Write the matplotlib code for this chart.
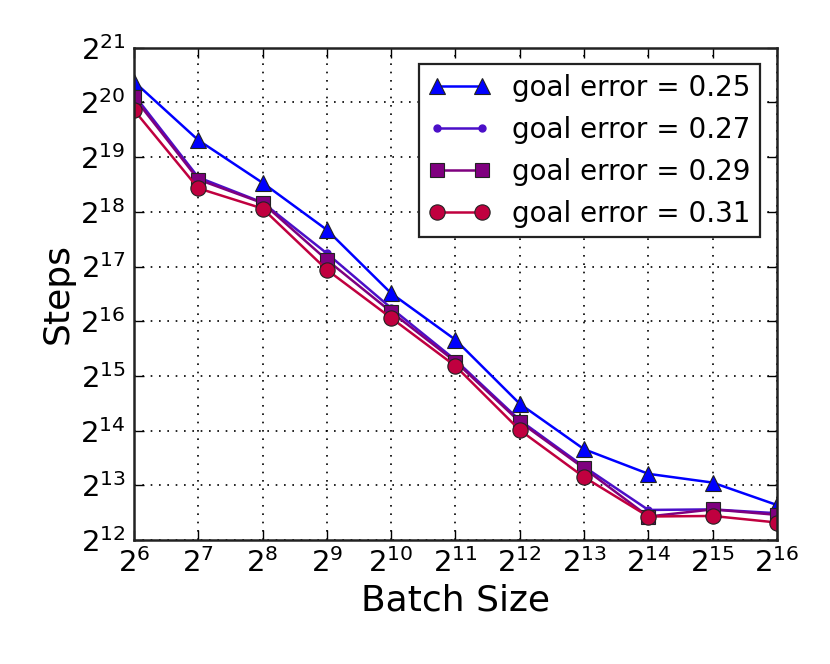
import matplotlib
matplotlib.use("Agg")
import matplotlib.pyplot as plt
import numpy as np

# batch sizes as powers of two
batch_exp = [6, 7, 8, 9, 10, 11, 12, 13, 14, 15, 16]

# log2(steps) for each goal error
steps_025 = [20.38, 19.31, 18.53, 17.67, 16.51, 15.66, 14.49, 13.66, 13.21, 13.05, 12.64]
steps_027 = [20.14, 18.63, 18.17, 17.24, 16.24, 15.29, 14.19, 13.34, 12.55, 12.56, 12.49]
steps_029 = [20.09, 18.59, 18.16, 17.12, 16.17, 15.26, 14.16, 13.31, 12.43, 12.56, 12.46]
steps_031 = [19.86, 18.43, 18.06, 16.94, 16.06, 15.18, 14.01, 13.15, 12.43, 12.44, 12.32]

labels = ["goal error = 0.25", "goal error = 0.27", "goal error = 0.29", "goal error = 0.31"]

batch = 2.0 ** np.array(batch_exp)

fig = plt.figure(figsize=(8.3, 6.64), dpi=100)
ax = fig.add_axes([0.1614, 0.1867, 0.7747, 0.7415])

ax.plot(batch, 2.0 ** np.array(steps_025), color="#0000ff", marker="^", ms=11,
        mec="#222222", mew=0.8, lw=1.8, label=labels[0])
ax.plot(batch, 2.0 ** np.array(steps_027), color="#4b0fc8", marker="o", ms=5,
        mec="#4b0fc8", lw=1.8, label=labels[1])
ax.plot(batch, 2.0 ** np.array(steps_029), color="#7f007f", marker="s", ms=10,
        mec="#222222", mew=0.8, lw=1.8, label=labels[2])
ax.plot(batch, 2.0 ** np.array(steps_031), color="#c0003f", marker="o", ms=11,
        mec="#222222", mew=0.8, lw=1.8, label=labels[3])

ax.set_xscale("log", base=2)
ax.set_yscale("log", base=2)
ax.set_xlim(2 ** 6, 2 ** 16)
ax.set_ylim(2 ** 12, 2 ** 21)

xt = [2.0 ** e for e in batch_exp]
ax.set_xticks(xt)
ax.set_xticklabels([r"$2^{%d}$" % e for e in batch_exp])
yexp = list(range(12, 22))
ax.set_yticks([2.0 ** e for e in yexp])
ax.set_yticklabels([r"$2^{%d}$" % e for e in yexp])
ax.minorticks_off()

ax.tick_params(which="major", direction="in", top=True, right=True,
               length=7, width=1, labelsize=21, pad=6)
ax.grid(True, linestyle=(0, (1, 4)), color="black", linewidth=1.2)
for s in ax.spines.values():
    s.set_linewidth(1.8)
    s.set_color("#222222")

ax.set_xlabel("Batch Size", fontsize=26)
ax.set_ylabel("Steps", fontsize=26)

leg = ax.legend(loc="upper right", numpoints=2, fontsize=20, fancybox=False,
                framealpha=1, edgecolor="#222222", borderpad=0.35,
                handlelength=2.2, handletextpad=0.8, labelspacing=0.5,
                borderaxespad=0.6)
leg.get_frame().set_linewidth(1.6)

fig.savefig("out.png", dpi=100)
